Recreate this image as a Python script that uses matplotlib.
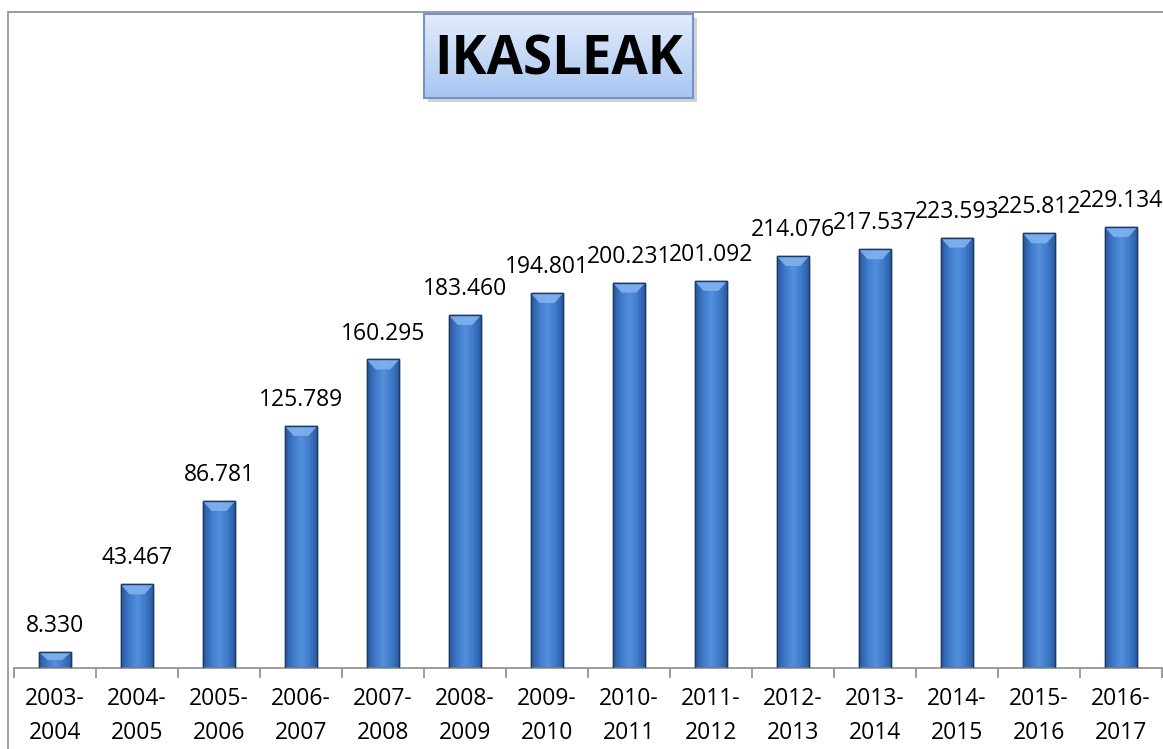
import numpy as np
import matplotlib.pyplot as plt
from matplotlib.patches import Rectangle, Polygon

# data
cursos = ["2003-\n2004", "2004-\n2005", "2005-\n2006", "2006-\n2007", "2007-\n2008",
          "2008-\n2009", "2009-\n2010", "2010-\n2011", "2011-\n2012", "2012-\n2013",
          "2013-\n2014", "2014-\n2015", "2015-\n2016", "2016-\n2017"]
ikasleak = [8330, 43467, 86781, 125789, 160295, 183460, 194801, 200231, 201092,
            214076, 217537, 223593, 225812, 229134]
etiketak = ["8.330", "43.467", "86.781", "125.789", "160.295", "183.460", "194.801",
            "200.231", "201.092", "214.076", "217.537", "223.593", "225.812", "229.134"]

plt.rcParams['font.family'] = ['Open Sans', 'DejaVu Sans']

W, H = 1163, 749
fig = plt.figure(figsize=(W / 100, H / 100), dpi=100)

# outer chart frame
fig.patches.append(Rectangle((8 / W, -0.1), 1.2, 1 - 12 / H + 0.1, transform=fig.transFigure,
                             fill=False, edgecolor='#8c8c8c', linewidth=1.2, zorder=-2))

ax_left, ax_right, ax_bottom, ax_top = 14, 1162, 668, 20
ax = fig.add_axes([ax_left / W, 1 - ax_bottom / H, (ax_right - ax_left) / W, (ax_bottom - ax_top) / H])
ax.set_facecolor('none')

x = np.arange(len(cursos))
px_per_unit = 1.925 / 1000
ymax = (ax_bottom - ax_top) / px_per_unit
ax.set_xlim(-0.5, len(cursos) - 0.5)
ax.set_ylim(0, ymax)

bar_w = 0.40
bars = ax.bar(x, ikasleak, width=bar_w, color='#3a6fbf', edgecolor='#1c3a66', linewidth=1.0, zorder=2)

# horizontal gradient inside each bar
cmap = plt.matplotlib.colors.LinearSegmentedColormap.from_list(
    'barra', ['#2a589c', '#3f7acb', '#5590dc', '#3f7acb', '#2a589c'])
grad = np.linspace(0, 1, 64).reshape(1, -1)
bevel = 10 / px_per_unit  # bevel height in data units
for xi, val, b in zip(x, ikasleak, bars):
    im = ax.imshow(grad, extent=(xi - bar_w / 2, xi + bar_w / 2, 0, val), aspect='auto',
                   cmap=cmap, zorder=2.5)
    im.set_clip_path(b)
    bh = min(bevel, val * 0.5)
    cap = Polygon([(xi - bar_w / 2, val), (xi + bar_w / 2, val),
                   (xi + bar_w / 2 - 0.11, val - bh), (xi - bar_w / 2 + 0.11, val - bh)],
                  closed=True, facecolor='#80b2ee', edgecolor='none', alpha=0.9, zorder=2.6)
    ax.add_patch(cap)
    ax.add_patch(Rectangle((xi - bar_w / 2, 0), bar_w, val, fill=False,
                           edgecolor='#1c3a66', linewidth=1.0, zorder=2.7))
    ax.annotate(etiketak[xi], (xi, val), xytext=(0, 10), textcoords='offset points',
                ha='center', va='bottom', fontsize=16.5, color='black', zorder=4)

for s in ['top', 'right', 'left']:
    ax.spines[s].set_visible(False)
ax.spines['bottom'].set_color('#8c8c8c')
ax.spines['bottom'].set_linewidth(1.2)
ax.set_yticks([])

ax.set_xticks(np.arange(-0.5, len(cursos), 1.0))
ax.set_xticklabels([])
ax.tick_params(axis='x', which='major', direction='out', length=7, color='#8c8c8c', width=1.2)
ax.set_xticks(x, minor=True)
ax.set_xticklabels(cursos, minor=True, fontsize=16.5, linespacing=1.55)
ax.tick_params(axis='x', which='minor', length=0, pad=14)

# title box with gradient
bx0, by0, bx1, by1 = 424, 14, 693, 98
fig.patches.append(Rectangle(((bx0 + 4) / W, 1 - (by1 + 4) / H), (bx1 - bx0) / W, (by1 - by0) / H,
                             transform=fig.transFigure, facecolor='#9a9a9a', alpha=0.45,
                             edgecolor='none', zorder=-1))
tax = fig.add_axes([bx0 / W, 1 - by1 / H, (bx1 - bx0) / W, (by1 - by0) / H])
tax.set_zorder(5)
vgrad = np.linspace(0, 1, 64).reshape(-1, 1)
tcmap = plt.matplotlib.colors.LinearSegmentedColormap.from_list('titulua', ['#e2ecfb', '#a8c6f2'])
tax.imshow(vgrad, extent=(0, 1, 0, 1), aspect='auto', cmap=tcmap, origin='upper')
tax.set_xlim(0, 1)
tax.set_ylim(0, 1)
tax.set_xticks([])
tax.set_yticks([])
for s in tax.spines.values():
    s.set_color('#7393c9')
    s.set_linewidth(1.5)
tax.text(0.5, 0.45, "IKASLEAK", ha='center', va='center', fontsize=38, fontweight='bold',
         color='black')

fig.savefig('out.png', dpi=100)
